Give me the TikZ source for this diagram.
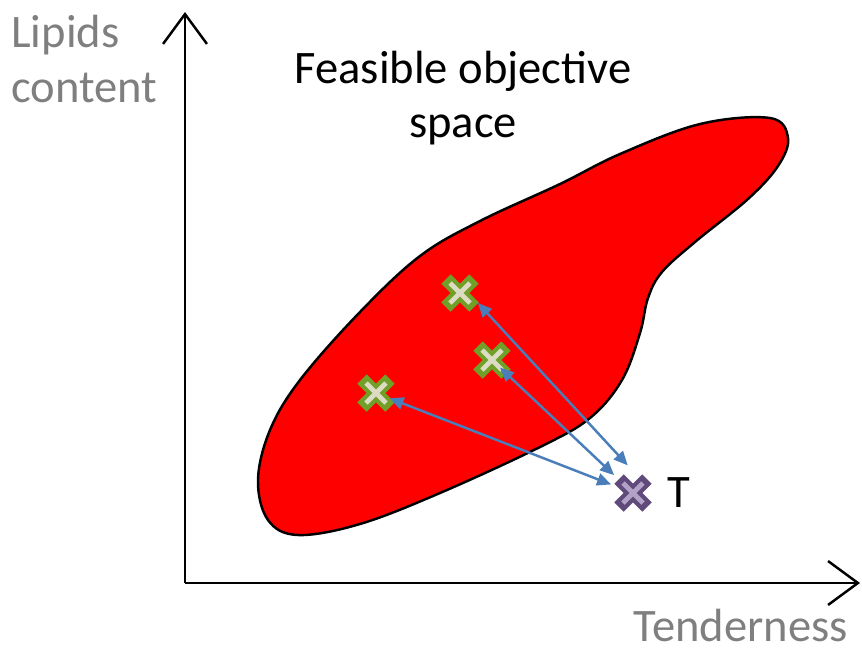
\documentclass[tikz,border=0pt]{standalone}
\usepackage{fontspec}
\setmainfont{Carlito}
\usetikzlibrary{arrows.meta}
\usetikzlibrary{calc}

\definecolor{xgreen}{RGB}{112,160,40}
\definecolor{xlight}{RGB}{221,219,196}
\definecolor{xpurple}{RGB}{96,74,123}
\definecolor{xlilac}{RGB}{179,162,199}
\definecolor{linkblue}{RGB}{74,126,187}
\definecolor{axisgray}{RGB}{127,127,127}

\tikzset{
  pics/xmark/.style 2 args={code={
    \draw[line width=7.6pt, draw=#1] (-14,-14) -- (14,14) (-14,14) -- (14,-14);
    \draw[line width=2.8pt, draw=#2] (-10,-10) -- (10,10) (-10,10) -- (10,-10);
  }},
  axis/.style={line width=1.4pt, -{Straight Barb[length=17pt,width=25pt,line width=1.4pt]}},
  link/.style={line width=1.4pt, linkblue, {Triangle[length=8pt,width=7pt]}-{Triangle[length=8pt,width=7pt]}},
  lbl/.style={font=\fontsize{26.5}{31}\selectfont, inner sep=0pt}
}

\begin{document}
\begin{tikzpicture}[x=0.02cm,y=-0.02cm]
		\useasboundingbox (0,0) rectangle (862,650);
		
		% feasible region
		\draw[line width=1.4pt, fill=red] plot[smooth cycle, tension=0.6] coordinates {
			(300,380) (270,430) (258,480) (268,520) (298,535) (360,524) (440,493)
			(540,447) (590,418) (622,380) (640,333) (648,298) (662,272) (695,242)
			(748,199) (778,166) (788,138) (770,118) (700,124) (620,154) (560,184)
			(480,221) (420,256) (360,312)};
		
		% axes
		\coordinate (o) at (185,583);
		\coordinate (ytop) at (185,12);
		\coordinate (xend) at (860,583);
		\draw[axis] (o) -- (ytop);
		\draw[axis] (o) -- (xend);
		
		\node[lbl, axisgray, anchor=base west, align=left] (ylab) at (11,102) {Lipids\\content};
		\node[lbl, axisgray, anchor=base east] (xlab) at (848,641) {Tenderness};
		\node[lbl, align=center] (title) at (463,98) {Feasible objective\\space};
		
		% solutions and target
		\coordinate (m1) at (376,393);
		\coordinate (m2) at (492,360);
		\coordinate (m3) at (460,293);
		\coordinate (tgt) at (633,493);
		\pic at (m1) {xmark={xgreen}{xlight}};
		\pic at (m2) {xmark={xgreen}{xlight}};
		\pic at (m3) {xmark={xgreen}{xlight}};
		\pic at (tgt) {xmark={xpurple}{xlilac}};
		\node[lbl, anchor=base west] (tlab) at (667,507) {T};
		
		% distances to target
		\draw[link, shorten <=2.9mm, shorten >=4.7mm] (m1) -- (tgt);
		\draw[link, shorten <=2.2mm, shorten >=5.2mm] (m2) -- (tgt);
		\draw[link, shorten <=3.8mm, shorten >=4.8mm] ($(m3)+(5,-4)$) -- ($(tgt)+(11,-10)$);
	\end{tikzpicture}
\end{document}
